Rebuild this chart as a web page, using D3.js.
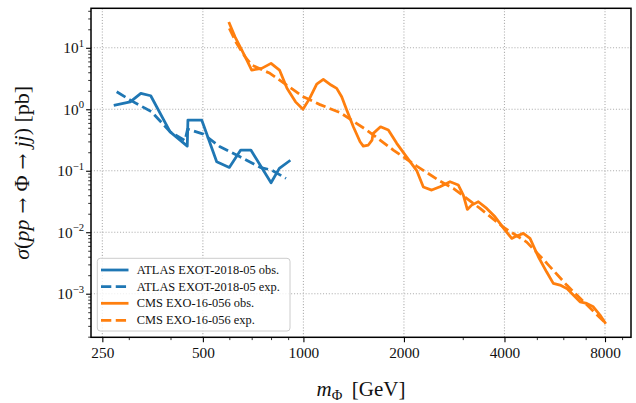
<!DOCTYPE html>
<html><head><meta charset="utf-8">
<script src="https://cdn.jsdelivr.net/npm/d3@7"></script>
<style>
html,body{margin:0;padding:0;background:#fff;}
svg{display:block;}
text{font-family:"Liberation Serif","Times New Roman",serif;fill:#111;}
</style></head>
<body><svg id="chart" width="636" height="403"></svg>
<script>
// ---- data ----
const atlasObsMass = [273, 303, 326, 349, 399, 449, 451, 496, 550, 600, 649, 696, 800, 847, 907];
const atlasObsXs   = [1.17, 1.32, 1.81, 1.66, 0.43, 0.252, 0.667, 0.667, 0.140, 0.1134, 0.217, 0.217, 0.0637, 0.1093, 0.1437];
const atlasExpMass = [276, 303, 351, 399, 442, 450, 502, 563, 646, 742, 804, 887];
const atlasExpXs   = [1.93, 1.41, 0.911, 0.43, 0.31, 0.476, 0.395, 0.245, 0.169, 0.1134, 0.1025, 0.0751];
const cmsObsMass = [600,624,654,677,700,750,800,848,893,947,997,1043,1096,1147,1210,1258,1302,1348,1411,1478,1511,1565,1605,1616,1702,1796,1903,2039,2184,2286,2422,2565,2748,2910,3012,3096,3191,3340,3539,3748,4015,4205,4302,4556,4770,5052,5352,5601,5866,6144,6429,6733,7052,7380,7729,8000];
const cmsObsXs   = [25,15.1,9.19,6.32,4.34,4.63,5.58,4.34,2.19,1.32,1.0,1.49,2.57,3.06,2.48,2.19,1.60,0.97,0.519,0.296,0.252,0.262,0.315,0.402,0.519,0.459,0.279,0.167,0.1006,0.0543,0.0485,0.0549,0.0662,0.0585,0.0402,0.0235,0.0276,0.0313,0.0244,0.0178,0.01083,0.00794,0.00843,0.00957,0.00794,0.00399,0.00225,0.00147,0.00138,0.00122,0.00095,0.000739,0.000696,0.000612,0.000449,0.000339];
const cmsExpMass = [600,631,669,700,794,891,999,1121,1287,1547,1859,2184,2565,2811,3380,3968,4663,5352,6144,6969,8000];
const cmsExpXs   = [20.7,11.8,7.15,5.24,3.84,2.48,1.60,1.19,0.884,0.459,0.217,0.119,0.0679,0.0517,0.0244,0.01212,0.00691,0.00315,0.00138,0.000704,0.000339];

const xTickValues = [250, 500, 1000, 2000, 4000, 8000];
const xTickLabels = ["250", "500", "1000", "2000", "4000", "8000"];
const xMinorValues = [300, 400, 600, 700, 800, 900, 3000, 5000, 6000, 7000, 9000];
const yTickExponents = [1, 0, -1, -2, -3];

const seriesNames = ["ATLAS EXOT-2018-05 obs.", "ATLAS EXOT-2018-05 exp.", "CMS EXO-16-056 obs.", "CMS EXO-16-056 exp."];
const seriesColors = ["#1f77b4", "#1f77b4", "#ff7f0e", "#ff7f0e"];
const seriesDashed = [false, true, false, true];

// ---- layout ----
const L = 91, R = 631, T = 8.3, B = 337.3;
const svg = d3.select("#chart");
const x = d3.scaleLog().domain([231.2, 9570]).range([L, R]);
const y = d3.scaleLog().domain([43.9, 1.954e-4]).range([T, B]);

const series = [
  atlasObsMass.map((m,i)=>[m, atlasObsXs[i]]),
  atlasExpMass.map((m,i)=>[m, atlasExpXs[i]]),
  cmsObsMass.map((m,i)=>[m, cmsObsXs[i]]),
  cmsExpMass.map((m,i)=>[m, cmsExpXs[i]])
];

svg.append("defs").append("clipPath").attr("id","clip")
  .append("rect").attr("x",L).attr("y",T).attr("width",R-L).attr("height",B-T);

// grid
const grid = svg.append("g");
xTickValues.forEach(v=>{
  grid.append("line").attr("x1",x(v)).attr("x2",x(v)).attr("y1",T).attr("y2",B)
    .attr("stroke","#b0b0b0").attr("stroke-width",1.1).attr("stroke-dasharray","1.1,1.8");
});
yTickExponents.forEach(e=>{
  const v = Math.pow(10,e);
  grid.append("line").attr("x1",L).attr("x2",R).attr("y1",y(v)).attr("y2",y(v))
    .attr("stroke","#b0b0b0").attr("stroke-width",1.1).attr("stroke-dasharray","1.1,1.8");
});

// lines
const lineLin = d3.line().x(d=>x(d[0])).y(d=>y(d[1]));
const plot = svg.append("g").attr("clip-path","url(#clip)");
series.forEach((s,i)=>{
  plot.append("path").datum(s).attr("d", lineLin)
    .attr("fill","none").attr("stroke", seriesColors[i]).attr("stroke-width", 2.78)
    .attr("stroke-linejoin","round")
    .attr("stroke-linecap", seriesDashed[i] ? "butt" : "square")
    .attr("stroke-dasharray", seriesDashed[i] ? "10.3,4.45" : null);
});

// x axis
const xAxis = d3.axisBottom(x).tickValues(xTickValues).tickFormat((d,i)=>xTickLabels[i]).tickSize(4.9).tickPadding(4.5);
const gx = svg.append("g").attr("transform",`translate(0,${B})`).call(xAxis);
gx.select(".domain").remove();
gx.selectAll("line").attr("stroke","#000").attr("stroke-width",1.1);
gx.selectAll("text").attr("font-size","15.3px").attr("font-family","Liberation Serif").attr("fill","#111").attr("dy","0.71em");
const gxm = svg.append("g").attr("transform",`translate(0,${B})`).call(d3.axisBottom(x).tickValues(xMinorValues).tickFormat("").tickSize(2.8));
gxm.select(".domain").remove();
gxm.selectAll("line").attr("stroke","#000").attr("stroke-width",0.8);

// y axis
const yMajorVals = yTickExponents.map(e=>Math.pow(10,e));
const gy = svg.append("g").attr("transform",`translate(${L},0)`).call(d3.axisLeft(y).tickValues(yMajorVals).tickFormat("").tickSize(4.9));
gy.select(".domain").remove();
gy.selectAll("line").attr("stroke","#000").attr("stroke-width",1.1);
const yMinorVals = [];
for (let e=-4; e<=1; e++) for (let k=2;k<=9;k++){ const v=k*Math.pow(10,e); if (v>=1.954e-4 && v<=43.9) yMinorVals.push(v); }
const gym = svg.append("g").attr("transform",`translate(${L},0)`).call(d3.axisLeft(y).tickValues(yMinorVals).tickFormat("").tickSize(2.8));
gym.select(".domain").remove();
gym.selectAll("line").attr("stroke","#000").attr("stroke-width",0.8);

yTickExponents.forEach(e=>{
  const t = svg.append("text").attr("x", 84).attr("y", y(Math.pow(10,e)) + 5.5)
    .attr("text-anchor","end").attr("font-size","15.3px");
  t.append("tspan").text("10");
  t.append("tspan").attr("dy",-6.5).attr("font-size","10.7px").text(e<0 ? "\u2212"+(-e) : String(e));
});

// frame
svg.append("rect").attr("x",L).attr("y",T).attr("width",R-L).attr("height",B-T)
  .attr("fill","none").attr("stroke","#000").attr("stroke-width",1.5);

// legend
const lg = svg.append("g");
lg.append("rect").attr("x",97.3).attr("y",258.3).attr("width",192.7).attr("height",72.7)
  .attr("rx",3).attr("ry",3).attr("fill","#fff").attr("fill-opacity",0.8)
  .attr("stroke","#cccccc").attr("stroke-width",1);
const rowY = [270, 286.7, 303.3, 320.3];
seriesNames.forEach((n,i)=>{
  lg.append("line").attr("x1",101).attr("x2",128.5).attr("y1",rowY[i]).attr("y2",rowY[i])
    .attr("stroke",seriesColors[i]).attr("stroke-width",2.78)
    .attr("stroke-dasharray", seriesDashed[i] ? "10.3,4.45" : null);
  lg.append("text").attr("x",136.7).attr("y",rowY[i]+4).attr("font-size","12.4px").text(n);
});

// axis labels
const xl = svg.append("text").attr("x", (L+R)/2).attr("y", 396).attr("text-anchor","middle").attr("font-size","21px");
xl.append("tspan").attr("font-style","italic").text("m");
xl.append("tspan").attr("font-size","14.5px").attr("dy",3.5).text("\u03A6");
xl.append("tspan").attr("dy",-3.5).text("\u2009 [GeV]");

const yl = svg.append("text").attr("transform",`translate(29,${(T+B)/2}) rotate(-90)`).attr("text-anchor","middle").attr("font-size","22px");
yl.append("tspan").attr("font-style","italic").text("\u03C3");
yl.append("tspan").text("(");
yl.append("tspan").attr("font-style","italic").text("pp");
yl.append("tspan").attr("font-family","DejaVu Serif").attr("font-size","19px").text(" \u2192 ");
yl.append("tspan").text("\u03A6");
yl.append("tspan").attr("font-family","DejaVu Serif").attr("font-size","19px").text(" \u2192 ");
yl.append("tspan").attr("font-style","italic").text("jj");
yl.append("tspan").text(") [pb]");
</script></body></html>
